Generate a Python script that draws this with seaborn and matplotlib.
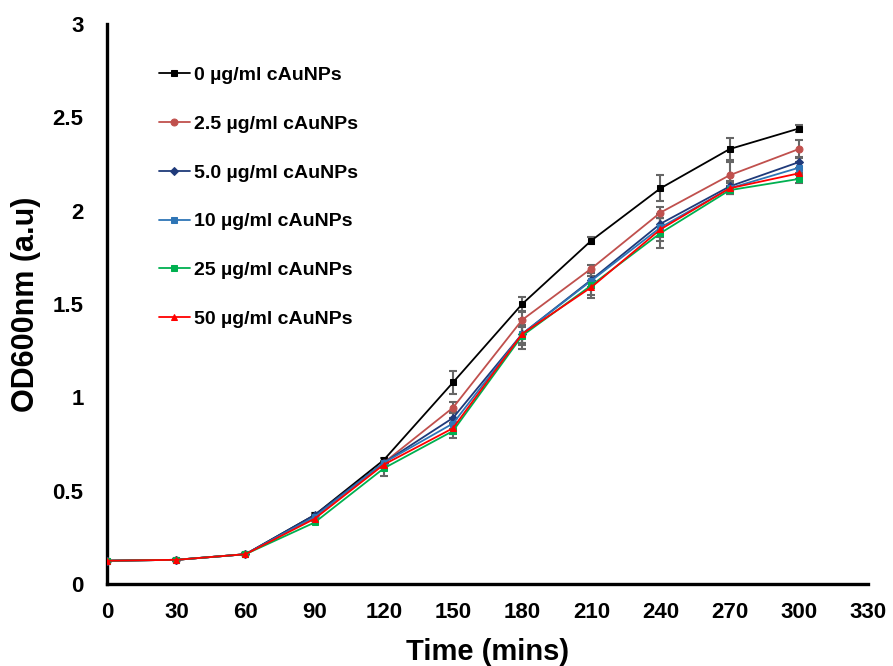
import matplotlib
matplotlib.use("Agg")
import matplotlib.pyplot as plt
import seaborn as sns
import pandas as pd
import numpy as np
from matplotlib.ticker import MultipleLocator

sns.set_style("white")
plt.rcParams['font.family'] = ['Liberation Sans', 'DejaVu Sans']
plt.rcParams['font.weight'] = 'bold'
plt.rcParams['text.color'] = 'black'
plt.rcParams['axes.labelcolor'] = 'black'
plt.rcParams['xtick.color'] = 'black'
plt.rcParams['ytick.color'] = 'black'

time = [0, 30, 60, 90, 120, 150, 180, 210, 240, 270, 300]
labels = ["0 µg/ml cAuNPs", "2.5 µg/ml cAuNPs", "5.0 µg/ml cAuNPs",
          "10 µg/ml cAuNPs", "25 µg/ml cAuNPs", "50 µg/ml cAuNPs"]
od_0 = [0.125, 0.13, 0.16, 0.37, 0.665, 1.08, 1.50, 1.84, 2.12, 2.33, 2.44]
od_2_5 = [0.125, 0.13, 0.16, 0.36, 0.65, 0.945, 1.415, 1.69, 1.99, 2.19, 2.33]
od_5 = [0.125, 0.13, 0.16, 0.37, 0.65, 0.89, 1.34, 1.63, 1.93, 2.13, 2.26]
od_10 = [0.125, 0.13, 0.16, 0.36, 0.65, 0.86, 1.34, 1.625, 1.91, 2.12, 2.23]
od_25 = [0.125, 0.13, 0.16, 0.33, 0.62, 0.82, 1.33, 1.60, 1.88, 2.11, 2.17]
od_50 = [0.125, 0.13, 0.16, 0.35, 0.64, 0.835, 1.34, 1.59, 1.90, 2.12, 2.20]
err_0 = [0.005, 0.005, 0.005, 0.01, 0.01, 0.06, 0.04, 0.02, 0.07, 0.06, 0.02]
err_2_5 = [0.005, 0.005, 0.005, 0.01, 0.01, 0.03, 0.04, 0.02, 0.03, 0.07, 0.05]
err_5 = [0.005, 0.005, 0.005, 0.01, 0.01, 0.03, 0.05, 0.04, 0.05, 0.03, 0.03]
err_10 = [0.005, 0.005, 0.005, 0.01, 0.01, 0.03, 0.05, 0.04, 0.05, 0.03, 0.03]
err_25 = [0.005, 0.005, 0.005, 0.01, 0.04, 0.04, 0.05, 0.05, 0.08, 0.02, 0.02]
err_50 = [0.005, 0.005, 0.005, 0.01, 0.02, 0.03, 0.08, 0.06, 0.06, 0.03, 0.03]

series = [od_0, od_2_5, od_5, od_10, od_25, od_50]
errors = [err_0, err_2_5, err_5, err_10, err_25, err_50]
colors = ["#000000", "#C0504D", "#1F3A7A", "#2E75B6", "#00B050", "#FF0000"]
markers = ["s", "o", "D", "s", "s", "^"]
msizes = [5, 5, 4, 5, 5, 5]

fig, ax = plt.subplots(figsize=(8.93, 6.66), dpi=100)
fig.subplots_adjust(left=0.12, right=0.972, bottom=0.123, top=0.964)

for vals, errs in zip(series, errors):
    ax.errorbar(time, vals, yerr=errs, fmt='none', ecolor='#666666',
                elinewidth=1.5, capsize=3, capthick=1.5, zorder=2)
for vals, lab, c, m, ms in zip(series, labels, colors, markers, msizes):
    df = pd.DataFrame({"time": time, "od": vals})
    sns.lineplot(data=df, x="time", y="od", ax=ax, color=c, marker=m,
                 markersize=ms, markeredgecolor=c, linewidth=1.3,
                 label=lab, zorder=3)

ax.set_xlim(0, 330)
ax.set_ylim(0, 3)
ax.xaxis.set_major_locator(MultipleLocator(30))
ax.xaxis.set_minor_locator(MultipleLocator(15))
ax.yaxis.set_minor_locator(MultipleLocator(0.25))
ax.set_yticks([0, 0.5, 1, 1.5, 2, 2.5, 3])
ax.set_yticklabels(["0", "0.5", "1", "1.5", "2", "2.5", "3"])

for s in ["top", "right"]:
    ax.spines[s].set_visible(False)
for s in ["left", "bottom"]:
    ax.spines[s].set_linewidth(2.4)
    ax.spines[s].set_color("black")

ax.tick_params(which="major", direction="inout", length=14, width=2.2,
               labelsize=16, color="black", labelcolor="black")
ax.tick_params(axis="x", which="major", pad=6)
ax.tick_params(axis="y", which="major", pad=10)
ax.tick_params(which="minor", direction="in", length=6, width=2.2, color="black")
for t in ax.get_xticklabels() + ax.get_yticklabels():
    t.set_fontweight("bold")

ax.set_xlabel("Time (mins)", fontsize=21, fontweight="bold", labelpad=11)
ax.set_ylabel("OD600nm (a.u)", fontsize=22, fontweight="bold", labelpad=8)

leg = ax.legend(loc="upper left", bbox_to_anchor=(0.045, 0.955), frameon=False,
                prop={"weight": "bold", "size": 14}, labelspacing=1.6,
                handlelength=1.6, handletextpad=0.2)
for t in leg.get_texts():
    t.set_color("black")

fig.savefig("out.png", dpi=100)
